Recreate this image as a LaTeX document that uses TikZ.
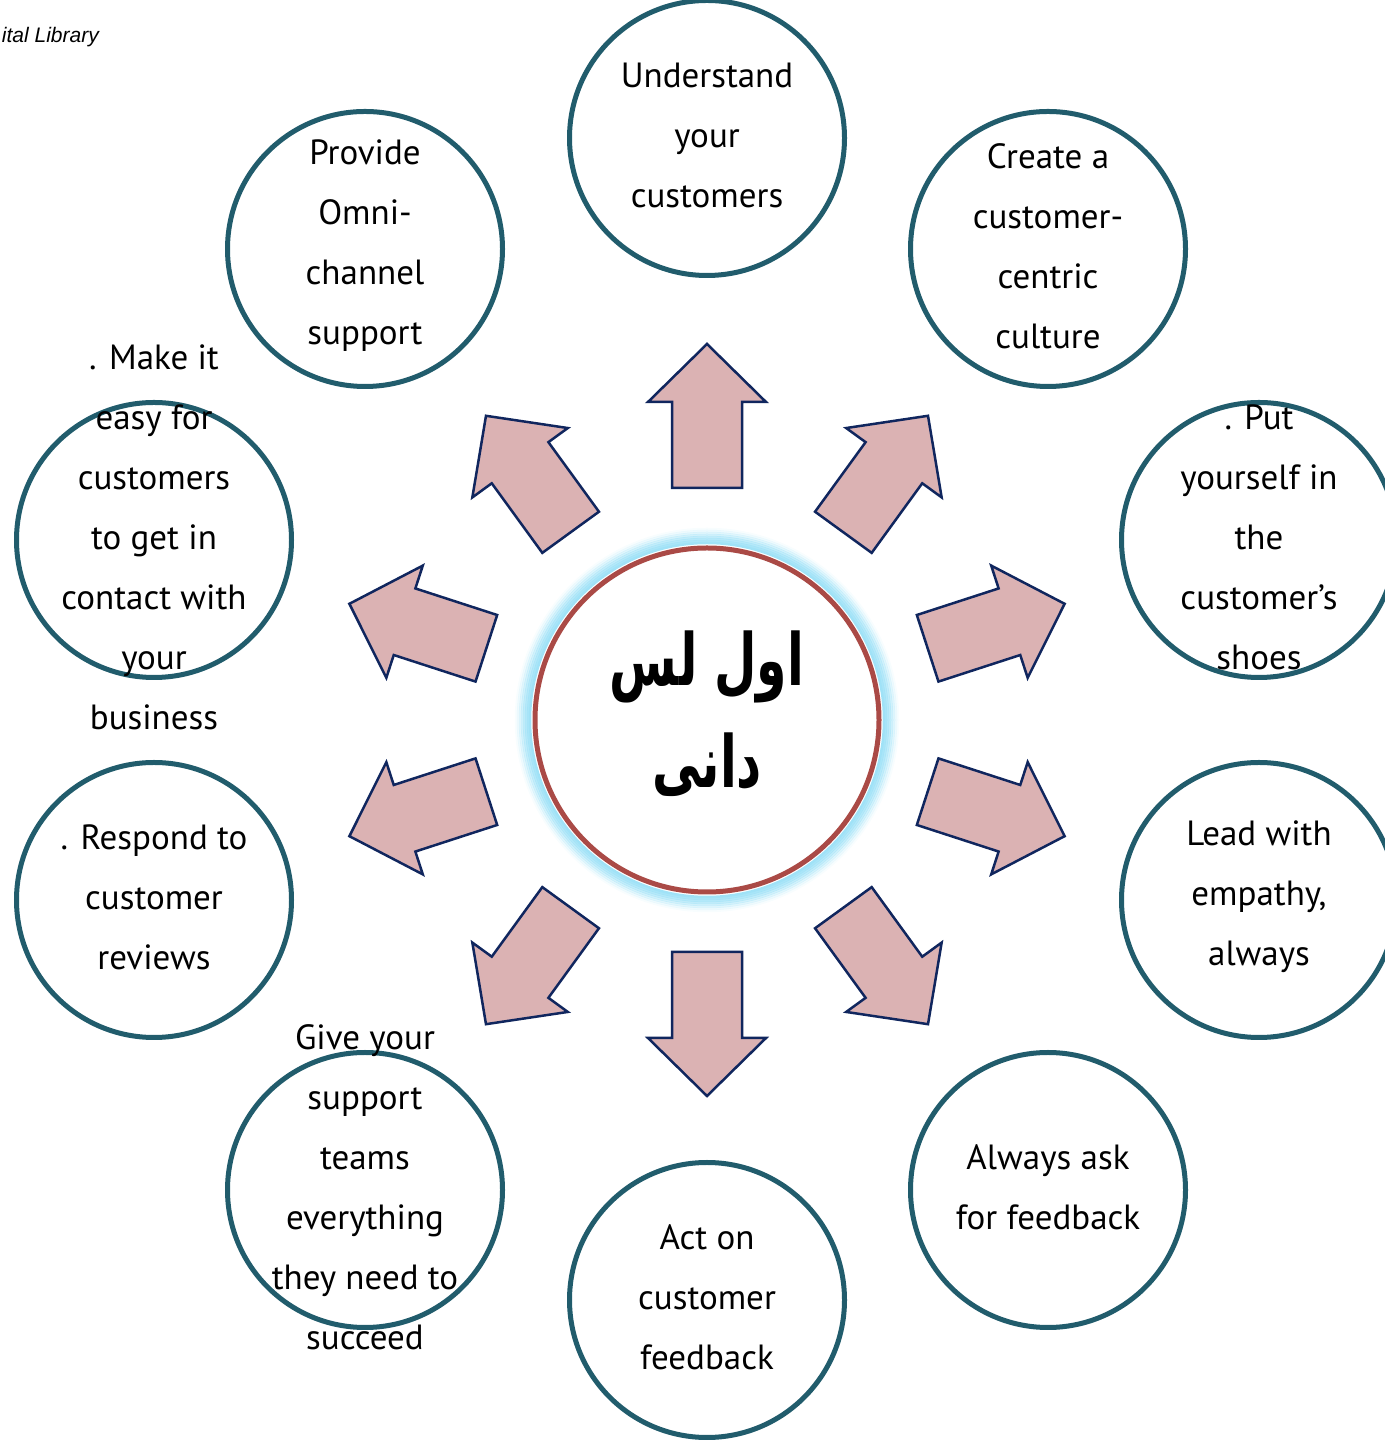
\documentclass[tikz,border=0pt]{standalone}
\usepackage{fontspec}
\setmainfont{PT Sans}
\newfontfamily\arabicfont[Script=Arabic, FakeStretch=0.68]{DejaVu Sans}
\newfontfamily\notefont{Liberation Sans}
\TeXXeTstate=1

\definecolor{ringline}{RGB}{33,92,108}
\definecolor{hubline}{RGB}{170,74,70}
\definecolor{glow}{RGB}{160,226,247}
\definecolor{spokefill}{RGB}{219,178,179}
\definecolor{spokeline}{RGB}{16,38,94}

\tikzset{
    ring/.style={circle, draw=ringline, line width=5pt, minimum size=275pt, inner sep=0pt},
    words/.style={align=center, inner sep=0pt, yshift=3pt, font=\fontsize{35}{60}\selectfont},
    hubring/.style={circle, draw=hubline, line width=5pt, fill=white, minimum size=344pt, inner sep=0pt},
    spokestyle/.style={draw=spokeline, fill=spokefill, line width=2.5pt, line join=miter},
}

% one arrow pointing away from the hub at angle #1
\newcommand{\spoke}[1]{%
    \draw [spokestyle, shift={(mid)}, rotate=#1] (232,-35) -- (318,-35) -- (318,-59)
        -- (376,0) -- (318,59) -- (318,35) -- (232,35) -- cycle;}

\begin{document}
\begin{tikzpicture}[x=1pt, y=1pt]
    \useasboundingbox (0,0) rectangle (1384,1440);

    \node [anchor=base east, inner sep=0pt, font=\notefont\itshape\fontsize{21}{24}\selectfont] (note) at (99,1397) {ital Library};

    % hub with its glow
    \coordinate (mid) at (707,720);
    \foreach \r/\o in {191/0.08, 189/0.18, 187/0.32, 185/0.48, 183/0.64, 181/0.78, 179/0.9, 177/1}
        \draw [glow, line width=2.5pt, opacity=\o] (mid) circle [radius=\r];
    \node [hubring] (hub) at (mid) {};
    \node [align=center, inner sep=0pt, font=\arabicfont\bfseries\fontsize{72}{102}\selectfont] (title) at (707,726)
        {\beginR اول لس\endR\\\beginR دانی\endR};

    % arrows
    \spoke{90}
    \spoke{54}
    \spoke{18}
    \spoke{-18}
    \spoke{-54}
    \spoke{-90}
    \spoke{-126}
    \spoke{-162}
    \spoke{162}
    \spoke{126}

    % outer circles
    \node [ring] (understand) at (707,1302) {};
    \node [ring] (culture) at (1048,1191) {};
    \node [ring] (shoes) at (1259,900) {};
    \node [ring] (empathy) at (1259,540) {};
    \node [ring] (ask) at (1048,250) {};
    \node [ring] (act) at (707,140) {};
    \node [ring] (teams) at (365,250) {};
    \node [ring] (reviews) at (154,540) {};
    \node [ring] (contact) at (154,900) {};
    \node [ring] (omni) at (365,1191) {};

    \node [words] at (understand) {Understand\\your\\customers};
    \node [words] at (culture) {Create a\\customer-\\centric\\culture};
    \node [words] at (shoes) {. Put\\yourself in\\the\\customer’s\\shoes};
    \node [words] at (empathy) {Lead with\\empathy,\\always};
    \node [words] at (ask) {Always ask\\for feedback};
    \node [words] at (act) {Act on\\customer\\feedback};
    \node [words] at (teams) {Give your\\support\\teams\\everything\\they need to\\succeed};
    \node [words] at (reviews) {. Respond to\\customer\\reviews};
    \node [words] at (contact) {. Make it\\easy for\\customers\\to get in\\contact with\\your\\business};
    \node [words] at (omni) {Provide\\Omni-\\channel\\support};
\end{tikzpicture}
\end{document}
